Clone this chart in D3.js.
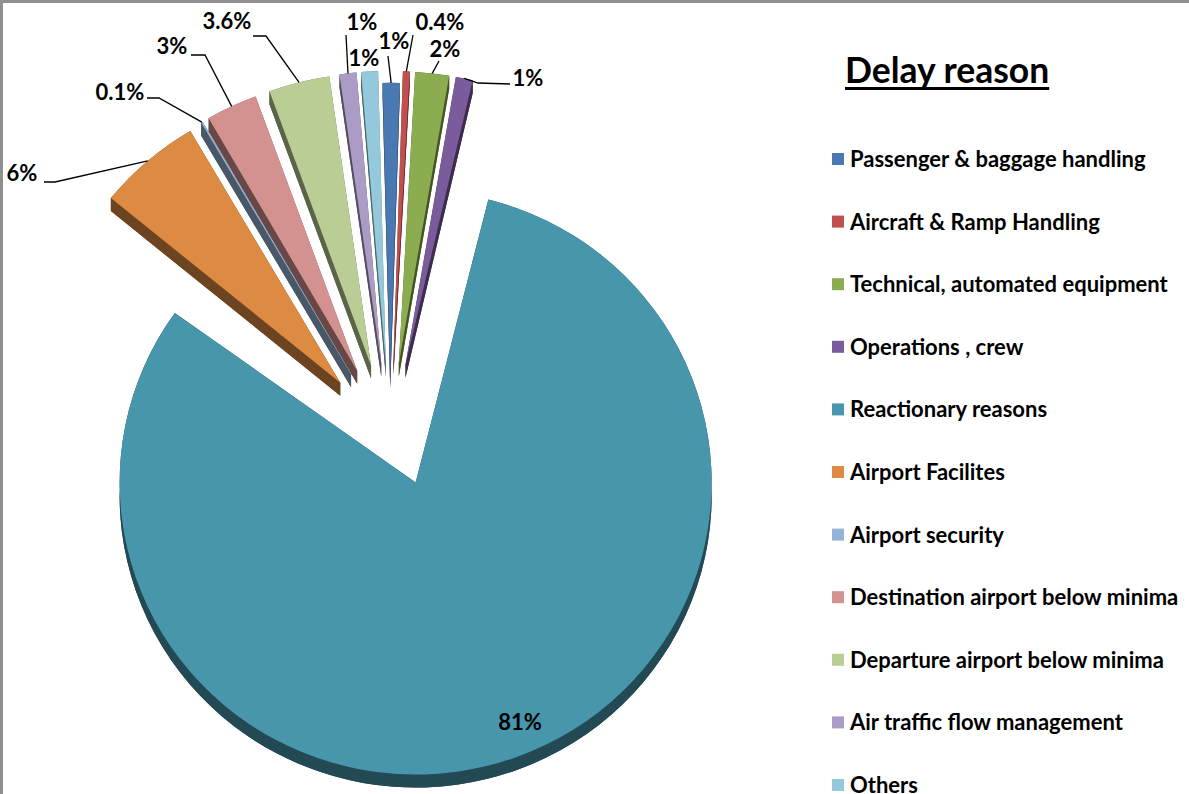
<!DOCTYPE html>
<html>
<head>
<meta charset="utf-8">
<script src="https://cdn.jsdelivr.net/npm/d3@7"></script>
<style>
  html, body { margin: 0; padding: 0; background: #fff; }
  svg { display: block; font-family: Lato, "Open Sans", sans-serif; }
</style>
</head>
<body>
<div id="chart"></div>
<script>
// delay reasons, in pie order (clockwise from the top)
const reasons = [
  "Passenger & baggage handling",
  "Aircraft & Ramp Handling",
  "Technical, automated equipment",
  "Operations , crew",
  "Reactionary reasons",
  "Airport Facilites",
  "Airport security",
  "Destination airport below minima",
  "Departure airport below minima",
  "Air traffic flow management",
  "Others"
];
const shares = [1, 0.4, 2, 1, 81, 6, 0.1, 3, 3.6, 1, 1];
const shareLabels = ["1%", "0.4%", "2%", "1%", "81%", "6%", "0.1%", "3%", "3.6%", "1%", "1%"];
const colors = ["#4a78b2", "#c0504d", "#8bac4f", "#7a5c9c", "#4796ab", "#dd8a43",
                "#95b3d7", "#d39290", "#bacd95", "#ab9cc5", "#93c9da"];

const W = 1189, H = 794;
// pie geometry (ellipse = tilted 3d disc), explode distance per slice
const P = { cx: 390, cy: 434, rx: 296, ry: 292, dx: 0, dy: 13, start: -1.6, warp: 4.5 };
const explode = [60, 72, 72, 72, 60, 72, 72, 72, 72, 72, 72];
const nudge = { 4: [5, -7] };
// label centre + leader elbows (leader starts on the slice rim)
const labelLayout = [
  { x: 394, y: 41, lead: [[388, 56]] },
  { x: 440, y: 22, lead: [[413, 35]] },
  { x: 445, y: 49, lead: [[439, 61]] },
  { x: 528, y: 78, lead: [[478, 83], [510, 84]] },
  { x: 520, y: 722, lead: null },
  { x: 22, y: 173, lead: [[55, 182], [44, 182]] },
  { x: 120, y: 92, lead: [[159, 98], [147, 98]] },
  { x: 172, y: 46, lead: [[205, 55], [191, 55]] },
  { x: 227, y: 21, lead: [[266, 36], [253, 36]] },
  { x: 362, y: 22, lead: [[346, 35]] },
  { x: 364, y: 58, lead: null }
];

const svg = d3.select("#chart").append("svg").attr("width", W).attr("height", H);

// chart area frame (only top/left edges fall inside the picture)
svg.append("path").attr("d", `M1.5,${H}V1.5H${W}`)
  .attr("fill", "none").attr("stroke", "#8f8f8f").attr("stroke-width", 3);

const start = P.start * Math.PI / 180;
const arcs = d3.pie().sort(null).value(d => d)
  .startAngle(start).endAngle(start + 2 * Math.PI)(shares);

const k = P.ry / P.rx;
const shift = p => [p[0] + P.dx, p[1] + P.dy];

const gPie = svg.append("g");
const tips = [], warps = [];
arcs.forEach((a, i) => {
  const mid = (a.startAngle + a.endAngle) / 2;
  const e = explode[i];
  const nd = nudge[i] || [0, 0];
  const tip = [P.cx + e * Math.sin(mid) + nd[0], P.cy - e * k * Math.cos(mid) + nd[1]];
  // raised slices look a bit squeezed toward the top (perspective)
  const c = a.value > 50 ? 0 : P.warp * Math.PI / 180;
  const wa = t => t - c * Math.sin(t);
  const ell = t => [tip[0] + P.rx * Math.sin(wa(t)), tip[1] - P.ry * Math.cos(wa(t))];
  tips.push(tip); warps.push(ell);
  const a0 = a.startAngle, a1 = a.endAngle;
  const large = (a1 - a0) > Math.PI ? 1 : 0;
  const p0 = ell(a0), p1 = ell(a1);
  const t2 = shift(tip), q0 = shift(p0), q1 = shift(p1);
  const side = d3.color(colors[i]).darker(2).formatHex();
  const g = gPie.append("g");
  // side faces: bottom face, radial walls, rim band
  g.append("path").attr("fill", side)
    .attr("d", `M${t2}L${q0}A${P.rx},${P.ry} 0 ${large} 1 ${q1}Z`);
  g.append("path").attr("fill", side).attr("d", `M${tip}L${p0}L${q0}L${t2}Z`);
  g.append("path").attr("fill", side).attr("d", `M${tip}L${p1}L${q1}L${t2}Z`);
  g.append("path").attr("fill", side)
    .attr("d", `M${p0}A${P.rx},${P.ry} 0 ${large} 1 ${p1}L${q1}A${P.rx},${P.ry} 0 ${large} 0 ${q0}Z`);
  // top face
  g.append("path").attr("fill", colors[i])
    .attr("d", `M${tip}L${p0}A${P.rx},${P.ry} 0 ${large} 1 ${p1}Z`);
});

// data labels and leader lines
const gLab = svg.append("g");
arcs.forEach((a, i) => {
  const L = labelLayout[i];
  if (L.lead) {
    const mid = (a.startAngle + a.endAngle) / 2;
    const rim = warps[i](mid);
    gLab.append("path").attr("fill", "none").attr("stroke", "#000").attr("stroke-width", 1.3)
      .attr("d", d3.line()([rim, ...L.lead]));
  }
  gLab.append("text").attr("x", L.x).attr("y", L.y).attr("dy", "0.36em")
    .attr("text-anchor", "middle").attr("font-size", 22).attr("font-weight", 700)
    .attr("fill", "#000").text(shareLabels[i]);
});

// legend
const gLeg = svg.append("g");
const title = gLeg.append("text").attr("x", 845).attr("y", 83)
  .attr("font-size", 35.5).attr("font-weight", 700).attr("fill", "#000").text("Delay reason");
const tw = title.node().getComputedTextLength();
gLeg.append("line").attr("x1", 845).attr("x2", 845 + tw).attr("y1", 88.5).attr("y2", 88.5)
  .attr("stroke", "#000").attr("stroke-width", 3);

const yLeg = d3.scalePoint().domain(reasons).range([159, 785]);
reasons.forEach((r, i) => {
  const y = yLeg(r);
  gLeg.append("rect").attr("x", 832).attr("y", y - 6).attr("width", 12).attr("height", 12)
    .attr("fill", colors[i]);
  gLeg.append("text").attr("x", 850).attr("y", y).attr("dy", "0.36em")
    .attr("font-size", 22).attr("font-weight", 700).attr("fill", "#000").text(r);
});
</script>
</body>
</html>
